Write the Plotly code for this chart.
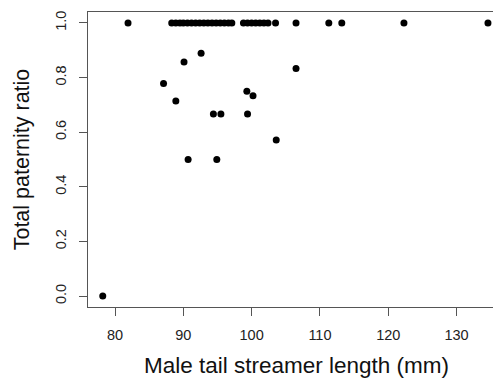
import plotly.graph_objects as go

# Top row (ratio = 1.0)
top_x = [81.9, 88.3, 88.9, 89.5, 90.0, 90.6, 91.2, 91.8, 92.4, 93.0, 93.6, 94.2,
         94.8, 95.4, 96.0, 96.6, 97.1, 98.8, 99.4, 100.0, 100.6, 101.2, 101.8,
         102.4, 103.5, 106.5, 111.3, 113.2, 122.3, 134.6]
top_y = [1.0] * len(top_x)

other_x = [90.1, 87.1, 88.9, 106.5, 99.3, 100.2, 94.4, 95.5, 99.4, 103.6, 90.7, 94.9, 92.6, 78.2]
other_y = [0.857, 0.778, 0.714, 0.833, 0.75, 0.733, 0.667, 0.667, 0.667, 0.571, 0.5, 0.5, 0.889, 0.0]

x_vals = top_x + other_x
y_vals = top_y + other_y

x_ticks = [80, 90, 100, 110, 120, 130]
y_ticks = [0.0, 0.2, 0.4, 0.6, 0.8, 1.0]

x_title = "Male tail streamer length (mm)"
y_title = "Total paternity ratio"

FONT = "Liberation Sans, Arial, sans-serif"

fig = go.Figure(go.Scatter(
    x=x_vals, y=y_vals, mode="markers",
    marker=dict(color="black", size=7, line=dict(width=0)),
    showlegend=False,
))

fig.update_layout(
    width=493, height=379,
    margin=dict(l=88, r=0, t=12, b=72),
    paper_bgcolor="white", plot_bgcolor="white",
    font=dict(family=FONT, color="#222222"),
    annotations=[dict(
        text=x_title, xref="paper", yref="paper",
        x=0.5136, y=-0.197, xanchor="center", yanchor="middle",
        showarrow=False, font=dict(size=22.5, color="#111111"),
    )],
)

fig.update_xaxes(
    range=[76.04, 135.34], tickvals=x_ticks, ticktext=[str(v) for v in x_ticks],
    showgrid=False, zeroline=False,
    showline=True, mirror=True, linecolor="#555555", linewidth=1,
    ticks="outside", ticklen=8, tickcolor="#555555", ticklabelstandoff=7,
    tickfont=dict(size=14.5, color="#222222"),
    automargin=False,
)
fig.update_yaxes(
    range=[-0.04, 1.04], tickvals=y_ticks, ticktext=[f"{v:.1f}" for v in y_ticks],
    showgrid=False, zeroline=False,
    showline=True, mirror=False, linecolor="#555555", linewidth=1,
    ticks="outside", ticklen=8, tickcolor="#555555", tickangle=-90, ticklabelstandoff=7,
    tickfont=dict(size=14.5, color="#222222"),
    title=dict(text=y_title, font=dict(size=21.5, color="#111111"), standoff=17),
    automargin=False,
)

fig.write_html("out.html")
